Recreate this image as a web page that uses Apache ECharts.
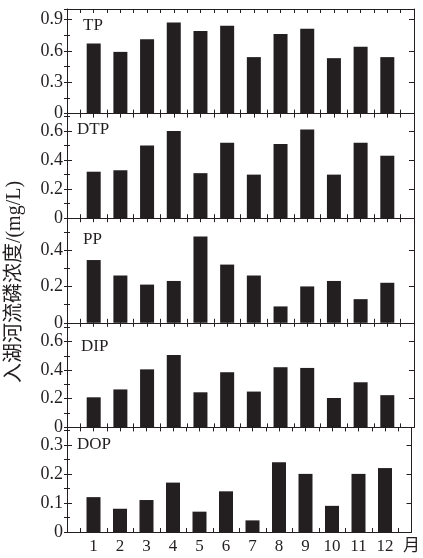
<!DOCTYPE html>
<html>
<head>
<meta charset="utf-8">
<script src="https://cdn.jsdelivr.net/npm/echarts@6/dist/echarts.min.js"></script>
<style>html,body{margin:0;padding:0;background:#fff;}#chart{width:423px;height:558px;}</style>
</head>
<body>
<div id="chart"></div>
<script>
const months = [1, 2, 3, 4, 5, 6, 7, 8, 9, 10, 11, 12];
const TP  = [0.67, 0.59, 0.71, 0.87, 0.79, 0.84, 0.54, 0.76, 0.81, 0.53, 0.64, 0.54];
const DTP = [0.32, 0.33, 0.50, 0.60, 0.31, 0.52, 0.30, 0.51, 0.61, 0.30, 0.52, 0.43];
const PP  = [0.345, 0.26, 0.21, 0.23, 0.475, 0.32, 0.26, 0.09, 0.20, 0.23, 0.13, 0.22];
const DIP = [0.21, 0.265, 0.405, 0.505, 0.245, 0.385, 0.25, 0.42, 0.415, 0.205, 0.315, 0.225];
const DOP = [0.12, 0.08, 0.11, 0.17, 0.07, 0.14, 0.04, 0.24, 0.20, 0.09, 0.20, 0.22];
const panelNames = ['TP', 'DTP', 'PP', 'DIP', 'DOP'];
const yMaxes = [1.0, 0.72, 0.575, 0.73, 0.36];
const yIntervals = [0.3, 0.2, 0.2, 0.2, 0.1];
const xLabelEnd = '月';
const yTitle = '入湖河流磷浓度/(mg/L)';

const seriesValues = [TP, DTP, PP, DIP, DOP];
const FONT = '"Liberation Serif", "Times New Roman", "Noto Sans CJK SC", serif';
const INK = '#231f20';

const gridTops = [9, 113.6, 218.2, 322.8, 427.4];
const gridH = 104.6;
const labelPos = [[83, 17], [77, 121], [83, 231], [81, 338], [77, 436]];

const grids = [], xAxes = [], yAxes = [], series = [], graphics = [];
const lineStyle = { color: INK, width: 1 };

gridTops.forEach((top, i) => {
  grids.push({ left: 67, right: 9, top: top, height: gridH });
  xAxes.push({
    gridIndex: i, type: 'value', min: 0, max: 13, interval: 0.5, position: 'bottom',
    axisLine: { show: true, onZero: false, lineStyle },
    axisTick: { show: true, inside: true, length: 4, lineStyle },
    splitLine: { show: false },
    axisLabel: i === 4 ? {
      show: true, margin: 6, color: INK, fontFamily: FONT, fontSize: 17,
      showMinLabel: false, showMaxLabel: true,
      formatter: v => (v === 13 ? xLabelEnd : (Number.isInteger(v) && v >= 1 && v <= 12 ? String(v) : ''))
    } : { show: false }
  });
  xAxes.push({
    gridIndex: i, type: 'value', min: 0, max: 13, interval: 0.5, position: 'top',
    axisLine: { show: true, onZero: false, lineStyle },
    axisTick: { show: true, inside: true, length: 4, lineStyle },
    splitLine: { show: false }, axisLabel: { show: false }
  });
  const base = { gridIndex: i, type: 'value', min: 0, max: yMaxes[i], splitLine: { show: false } };
  yAxes.push(Object.assign({}, base, {
    position: 'left', interval: yIntervals[i],
    axisLine: { show: true, onZero: false, lineStyle },
    axisTick: { show: true, inside: true, length: 5, lineStyle },
    axisLabel: { show: true, margin: 4, color: INK, fontFamily: FONT, fontSize: 18, showMaxLabel: false,
      formatter: v => { const r = Math.round(v / yIntervals[i]) * yIntervals[i]; return Math.abs(r - v) < 1e-9 ? String(+v.toFixed(2)) : ''; } }
  }));
  yAxes.push(Object.assign({}, base, {
    position: 'left', interval: yIntervals[i] / 2,
    axisLine: { show: false }, axisLabel: { show: false },
    axisTick: { show: true, inside: true, length: 3, lineStyle }
  }));
  yAxes.push(Object.assign({}, base, {
    position: 'right', interval: yIntervals[i],
    axisLine: { show: true, onZero: false, lineStyle }, axisLabel: { show: false },
    axisTick: { show: true, inside: true, length: 5, lineStyle }
  }));
  yAxes.push(Object.assign({}, base, {
    position: 'right', interval: yIntervals[i] / 2,
    axisLine: { show: false }, axisLabel: { show: false },
    axisTick: { show: true, inside: true, length: 3, lineStyle }
  }));
  series.push({
    type: 'bar', xAxisIndex: i * 2, yAxisIndex: i * 4, barWidth: 14,
    itemStyle: { color: INK }, silent: true,
    data: months.map((m, k) => [m, seriesValues[i][k]])
  });
  graphics.push({
    type: 'text', left: labelPos[i][0], top: labelPos[i][1],
    style: { text: panelNames[i], font: '17px ' + FONT, fill: INK }
  });
});

graphics.push({
  type: 'text', x: 15, y: 282, rotation: Math.PI / 2,
  style: { text: yTitle, font: '20px ' + FONT, fill: INK, align: 'center', verticalAlign: 'middle' }
});

const chart = echarts.init(document.getElementById('chart'), null, { renderer: 'canvas' });
chart.setOption({
  animation: false,
  backgroundColor: '#fff',
  grid: grids, xAxis: xAxes, yAxis: yAxes, series: series, graphic: graphics
});
</script>
</body>
</html>
